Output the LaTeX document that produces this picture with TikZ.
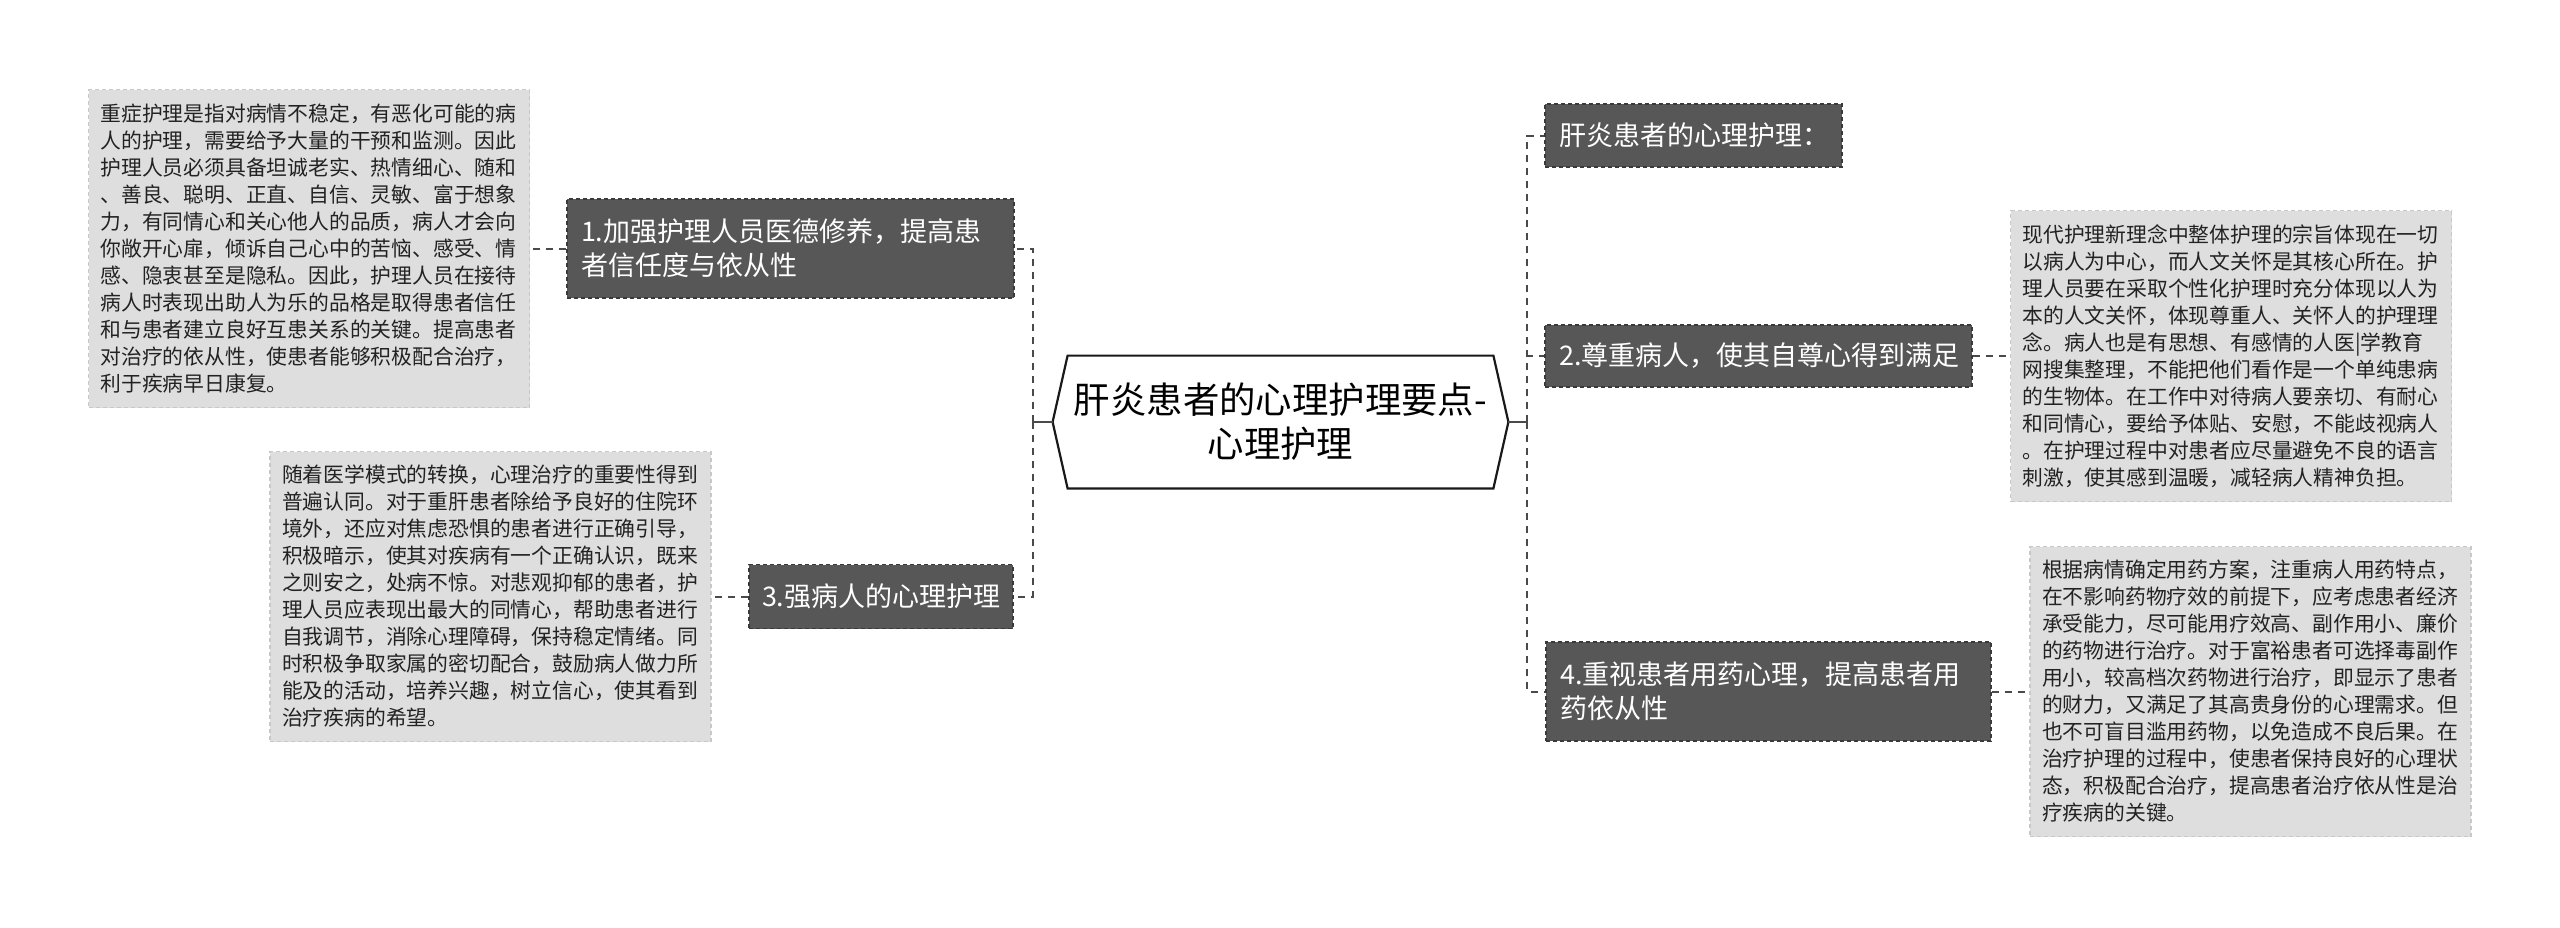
\documentclass[tikz,border=0pt]{standalone}
\usepackage{fontspec}
\setmainfont{Noto Sans CJK SC}
\usetikzlibrary{calc}
\definecolor{branchfill}{HTML}{575757}
\definecolor{branchline}{HTML}{3A3A3A}
\definecolor{detailfill}{HTML}{DEDEDE}
\definecolor{detailline}{HTML}{C8C8C8}
\definecolor{connline}{HTML}{4A4A4A}
\definecolor{detailtext}{HTML}{222222}
\begin{document}
\begin{tikzpicture}[x=0.5pt,y=-0.5pt,
  branch/.style={draw=branchline, dash pattern=on 2pt off 1.5pt, line width=0.6pt, fill=branchfill, text=white,
    font=\fontsize{13.5pt}{17pt}\selectfont, align=left, inner xsep=7pt, inner ysep=0pt, anchor=center},
  detail/.style={draw=detailline, dash pattern=on 2pt off 1.5pt, line width=0.6pt, fill=detailfill, text=detailtext,
    font=\fontsize{10.4pt}{13.5pt}\selectfont, align=left, inner xsep=6pt, inner ysep=0pt,
    text width=208.5pt, anchor=center},
  centre/.style={align=center, inner sep=0pt, text width=212.5pt, minimum height=66pt,
    font=\fontsize{18.2pt}{22pt}\selectfont, text=black},
  hexline/.style={draw=black!90, line width=1.1pt, line join=miter},
  conn/.style={draw=connline, line width=1pt, dash pattern=on 3.5pt off 3pt},
  stub/.style={draw=connline, line width=1pt}
]
\fill[white] (0,0) rectangle (2560,927);
\useasboundingbox (0,0) rectangle (2560,927);

% centre
\node[centre] (c) at (1280.5,422) {肝炎患者的心理护理要点-\\心理护理};
\coordinate (cl) at ($(c.west)+(-15,0)$);
\coordinate (cr) at ($(c.east)+(15,0)$);
\draw[hexline] (c.north west) -- (c.north east) -- (cr) -- (c.south east) -- (c.south west) -- (cl) -- cycle;
\coordinate (lt) at ($(cl)+(-20,0)$);
\coordinate (rt) at ($(cr)+(19,0)$);

% branches
\node[branch, text width=209.5pt, minimum height=49.5pt] (n1) at (790.5,248.5)
  {1.加强护理人员医德修养，提高患\\者信任度与依从性};
\node[branch, text width=119pt, inner xsep=6.5pt, minimum height=32pt] (n3) at (881,596.5)
  {3.强病人的心理护理};
\node[branch, text width=134.5pt, minimum height=31.5pt] (t0) at (1693.5,135.5)
  {肝炎患者的心理护理：};
\node[branch, text width=199.5pt, minimum height=31pt] (n2) at (1758.5,356)
  {2.尊重病人，使其自尊心得到满足};
\node[branch, text width=208.5pt, minimum height=49.5pt] (n4) at (1768.5,691.5)
  {4.重视患者用药心理，提高患者用\\药依从性};

% details
\node[detail, minimum height=159pt] (d1) at (309,248.5)
  {重症护理是指对病情不稳定，有恶化可能的病\\
   人的护理，需要给予大量的干预和监测。因此\\
   护理人员必须具备坦诚老实、热情细心、随和\\
   、善良、聪明、正直、自信、灵敏、富于想象\\
   力，有同情心和关心他人的品质，病人才会向\\
   你敞开心扉，倾诉自己心中的苦恼、感受、情\\
   感、隐衷甚至是隐私。因此，护理人员在接待\\
   病人时表现出助人为乐的品格是取得患者信任\\
   和与患者建立良好互患关系的关键。提高患者\\
   对治疗的依从性，使患者能够积极配合治疗，\\
   利于疾病早日康复。};
\node[detail, minimum height=145pt] (d3) at (490.5,596.5)
  {随着医学模式的转换，心理治疗的重要性得到\\
   普遍认同。对于重肝患者除给予良好的住院环\\
   境外，还应对焦虑恐惧的患者进行正确引导，\\
   积极暗示，使其对疾病有一个正确认识，既来\\
   之则安之，处病不惊。对悲观抑郁的患者，护\\
   理人员应表现出最大的同情心，帮助患者进行\\
   自我调节，消除心理障碍，保持稳定情绪。同\\
   时积极争取家属的密切配合，鼓励病人做力所\\
   能及的活动，培养兴趣，树立信心，使其看到\\
   治疗疾病的希望。};
\node[detail, minimum height=145.5pt] (d2) at (2231,356)
  {现代护理新理念中整体护理的宗旨体现在一切\\
   以病人为中心，而人文关怀是其核心所在。护\\
   理人员要在采取个性化护理时充分体现以人为\\
   本的人文关怀，体现尊重人、关怀人的护理理\\
   念。病人也是有思想、有感情的人医|学教育\\
   网搜集整理，不能把他们看作是一个单纯患病\\
   的生物体。在工作中对待病人要亲切、有耐心\\
   和同情心，要给予体贴、安慰，不能歧视病人\\
   。在护理过程中对患者应尽量避免不良的语言\\
   刺激，使其感到温暖，减轻病人精神负担。};
\node[detail, minimum height=145pt] (d4) at (2250.5,691.5)
  {根据病情确定用药方案，注重病人用药特点，\\
   在不影响药物疗效的前提下，应考虑患者经济\\
   承受能力，尽可能用疗效高、副作用小、廉价\\
   的药物进行治疗。对于富裕患者可选择毒副作\\
   用小，较高档次药物进行治疗，即显示了患者\\
   的财力，又满足了其高贵身份的心理需求。但\\
   也不可盲目滥用药物，以免造成不良后果。在\\
   治疗护理的过程中，使患者保持良好的心理状\\
   态，积极配合治疗，提高患者治疗依从性是治\\
   疗疾病的关键。};

% connectors
\draw[stub] (cl) -- (lt);
\draw[stub] (cr) -- (rt);
\draw[conn] (lt) |- (n1.east);
\draw[conn] (lt) |- (n3.east);
\draw[conn] (rt) |- (t0.west);
\draw[conn] (rt) |- (n2.west);
\draw[conn] (rt) |- (n4.west);
\draw[conn] (n1.west) -- (d1.east);
\draw[conn] (n3.west) -- (d3.east);
\draw[conn] (n2.east) -- (d2.west);
\draw[conn] (n4.east) -- (d4.west);
\end{tikzpicture}
\end{document}
